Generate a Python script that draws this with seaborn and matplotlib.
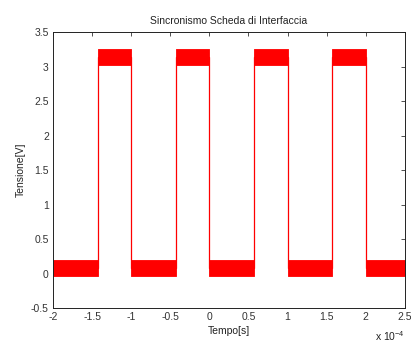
import matplotlib
matplotlib.use("Agg")
import matplotlib.pyplot as plt
import numpy as np
import pandas as pd
import seaborn as sns

# Switching instants of the sync signal (units of 1e-4 s)
edges = [-2.0, -1.43, -1.0, -0.43, 0.0, 0.57, 1.0, 1.57, 2.0, 2.5]
# Logic state of each interval between consecutive edges (0 = low, 1 = high)
states = [0, 1, 0, 1, 0, 1, 0, 1, 0]
# Noise envelope of each level [V]: (bottom, top)
low_band = (-0.03, 0.20)
high_band = (3.03, 3.25)

sns.set_theme(style="white")
plt.rcParams["font.family"] = ["Liberation Sans", "DejaVu Sans"]
plt.rcParams["font.size"] = 7.5

fig = plt.figure(figsize=(4.11, 3.45), dpi=100)
fig.patch.set_facecolor("white")
ax = fig.add_axes([0.129, 0.107, 0.856, 0.800])
ax.set_facecolor("white")

# Centre line of the waveform, including the vertical transitions
bands = [low_band, high_band]
xs, ys = [], []
for i, s in enumerate(states):
    mid = sum(bands[s]) / 2
    xs += [edges[i], edges[i + 1]]
    ys += [mid, mid]
wave = pd.DataFrame({"t": xs, "v": ys})

# Noise envelopes on each plateau
for i, s in enumerate(states):
    lo, hi = bands[s]
    seg = pd.DataFrame({"t": [edges[i], edges[i + 1]], "lo": [lo, lo], "hi": [hi, hi]})
    ax.fill_between(seg["t"], seg["lo"], seg["hi"], color="#ff0000", lw=0.6,
                    edgecolor="#ff0000")
sns.lineplot(data=wave, x="t", y="v", ax=ax, color="#ff0000", lw=0.9,
             estimator=None, sort=False)

ax.set_xlim(-2, 2.5)
ax.set_ylim(-0.5, 3.5)
ax.set_xticks(np.arange(-2, 2.51, 0.5))
ax.set_xticklabels(["-2", "-1.5", "-1", "-0.5", "0", "0.5", "1", "1.5", "2", "2.5"])
ax.set_yticks(np.arange(-0.5, 3.51, 0.5))
ax.set_yticklabels(["-0.5", "0", "0.5", "1", "1.5", "2", "2.5", "3", "3.5"])
ax.tick_params(direction="in", length=3, width=0.6, top=True, right=True,
               labelsize=7.5, colors="#333333", pad=3)
for sp in ax.spines.values():
    sp.set_visible(True)
    sp.set_color("#222222")
    sp.set_linewidth(0.7)

ax.set_title("Sincronismo Scheda di Interfaccia", fontsize=7.5, pad=6, color="#222222")
ax.set_xlabel("Tempo[s]", fontsize=7.5, labelpad=3, color="#222222")
ax.set_ylabel("Tensione[V]", fontsize=7.5, labelpad=4, color="#222222")
ax.text(1.0, -0.078, r"x 10$^{\mathregular{-4}}$", transform=ax.transAxes,
        ha="right", va="top", fontsize=7.5, color="#222222")

fig.savefig("out.png", dpi=100, facecolor="white")
